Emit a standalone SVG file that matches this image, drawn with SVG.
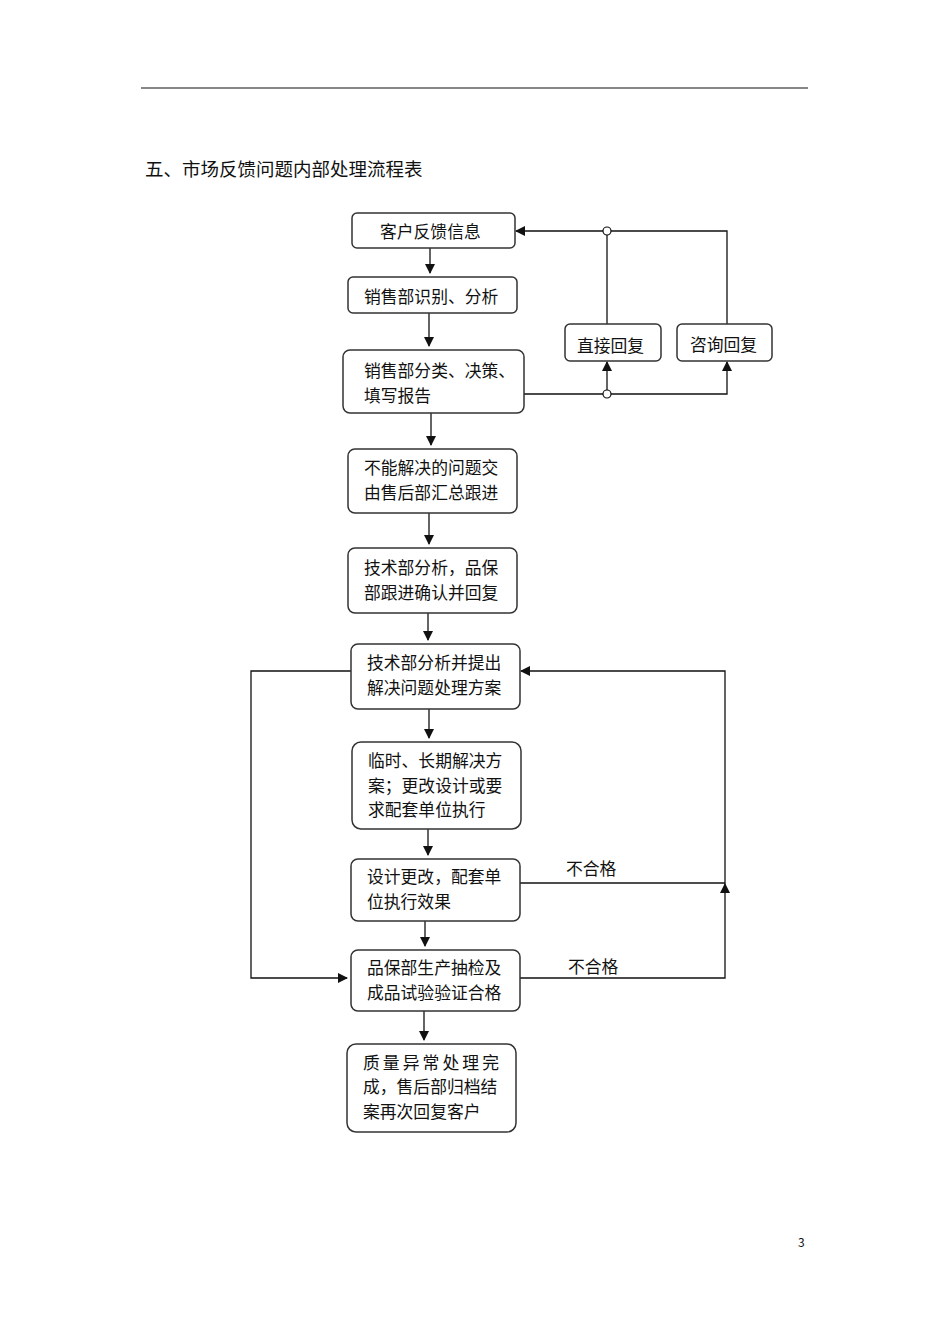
<svg xmlns="http://www.w3.org/2000/svg" width="950" height="1344" viewBox="0 0 950 1344">
<style>
.b{fill:#fff;stroke:#333;stroke-width:1.5}
text{font-family:"Noto Sans CJK SC","Liberation Serif",serif;font-size:16.8px;fill:#111}
.l{fill:none;stroke:#111;stroke-width:1.3}
.c{fill:#fff;stroke:#111;stroke-width:1.2}
</style>
<defs><marker id="a" markerWidth="10" markerHeight="10" refX="9" refY="5" orient="auto" markerUnits="userSpaceOnUse"><path d="M0,0 L10,5 L0,10Z" fill="#111"/></marker></defs>
<rect width="950" height="1344" fill="#fff"/>
<line x1="141" y1="88" x2="808" y2="88" stroke="#111" stroke-width="1.2"/>
<text x="145" y="176" style="font-size:18.5px">五、市场反馈问题内部处理流程表</text>
<text x="798" y="1247" style="font-size:12px">3</text>
<g id="connectors">
<path class="l" d="M430,248V273" marker-end="url(#a)"/>
<path class="l" d="M429,313V346" marker-end="url(#a)"/>
<path class="l" d="M431,413V445" marker-end="url(#a)"/>
<path class="l" d="M429,513V544" marker-end="url(#a)"/>
<path class="l" d="M428,613V640" marker-end="url(#a)"/>
<path class="l" d="M429,709V738" marker-end="url(#a)"/>
<path class="l" d="M428,829V855" marker-end="url(#a)"/>
<path class="l" d="M425,921V946" marker-end="url(#a)"/>
<path class="l" d="M424,1011V1040" marker-end="url(#a)"/>
<path class="l" d="M524,394H727V362" marker-end="url(#a)"/>
<path class="l" d="M607,394V362" marker-end="url(#a)"/>
<path class="l" d="M607,324V231"/>
<path class="l" d="M727,324V231H516" marker-end="url(#a)"/>
<circle class="c" cx="607" cy="231" r="4"/>
<circle class="c" cx="607" cy="394" r="4"/>
<path class="l" d="M351,671H251V978H347" marker-end="url(#a)"/>
<path class="l" d="M520,883H725"/>
<path class="l" d="M520,978H725V884" marker-end="url(#a)"/>
<path class="l" d="M725,884V671H521" marker-end="url(#a)"/>
<text x="566" y="875">不合格</text>
<text x="568" y="973">不合格</text>
</g>
<g id="n1"><rect class="b" x="352" y="213" width="163" height="35" rx="5"/><text x="380" y="238">客户反馈信息</text></g>
<g id="n2"><rect class="b" x="348" y="277" width="169" height="36" rx="5"/><text x="364" y="303">销售部识别、分析</text></g>
<g id="n3"><rect class="b" x="343" y="350" width="181" height="63" rx="7"/><text x="364" y="377">销售部分类、决策、</text><text x="364" y="402">填写报告</text></g>
<g id="n4"><rect class="b" x="348" y="449" width="169" height="64" rx="7"/><text x="364" y="474">不能解决的问题交</text><text x="364" y="499">由售后部汇总跟进</text></g>
<g id="n5"><rect class="b" x="348" y="548" width="169" height="65" rx="7"/><text x="364" y="574">技术部分析，品保</text><text x="364" y="599">部跟进确认并回复</text></g>
<g id="n6"><rect class="b" x="351" y="644" width="169" height="65" rx="7"/><text x="367" y="669">技术部分析并提出</text><text x="367" y="694">解决问题处理方案</text></g>
<g id="n7"><rect class="b" x="352" y="742" width="169" height="87" rx="9"/><text x="368" y="767">临时、长期解决方</text><text x="368" y="792">案；更改设计或要</text><text x="368" y="816">求配套单位执行</text></g>
<g id="n8"><rect class="b" x="351" y="859" width="169" height="62" rx="7"/><text x="367" y="883">设计更改，配套单</text><text x="367" y="908">位执行效果</text></g>
<g id="n9"><rect class="b" x="351" y="950" width="169" height="61" rx="7"/><text x="367" y="974">品保部生产抽检及</text><text x="367" y="999">成品试验验证合格</text></g>
<g id="n10"><rect class="b" x="347" y="1044" width="169" height="88" rx="9"/><text x="363" y="1069" textLength="136">质量异常处理完</text><text x="363" y="1093">成，售后部归档结</text><text x="363" y="1118">案再次回复客户</text></g>
<g id="n11"><rect class="b" x="565" y="324" width="96" height="37" rx="5"/><text x="577" y="352">直接回复</text></g>
<g id="n12"><rect class="b" x="677" y="324" width="95" height="37" rx="5"/><text x="690" y="351">咨询回复</text></g>
</svg>
